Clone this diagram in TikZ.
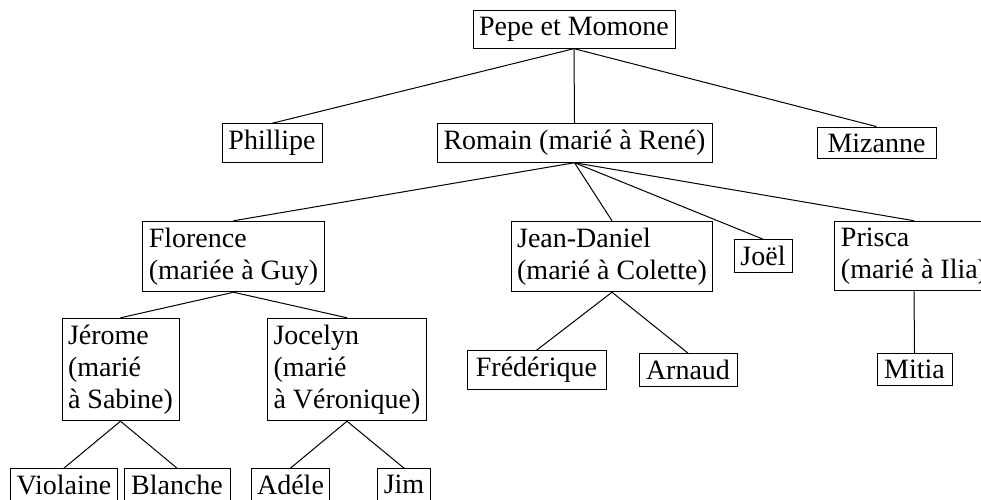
\documentclass[tikz,border=0pt]{standalone}
\usepackage{fontspec}
\setmainfont{Liberation Serif}
\begin{document}
\begin{tikzpicture}[x=1pt,y=-1pt,
  pbox/.style={draw,line width=1pt,font=\fontsize{28}{32}\selectfont,align=left,inner xsep=6pt,inner ysep=6.5pt},
  link/.style={line width=1pt}]
\useasboundingbox (0,0) rectangle (981,499);
\clip (0,0) rectangle (981,499);
\node[pbox,minimum width=202pt] (pepe) at (574,29.5) {Pepe et Momone};
\node[pbox,minimum width=100pt] (phil) at (272,143) {Phillipe};
\node[pbox,minimum width=275pt] (romain) at (574.5,143) {Romain (marié à René)};
\node[pbox,minimum width=119pt] (miz) at (876.5,143) {Mizanne};
\node[pbox,minimum width=179pt] (flor) at (233.5,256.5) {Florence\\(mariée à Guy)};
\node[pbox,minimum width=200pt] (jd) at (612,256.5) {Jean-Daniel\\(marié à Colette)};
\node[pbox,minimum width=58pt] (joel) at (763,256) {Joël};
\node[pbox,minimum width=156pt] (prisca) at (914,256) {Prisca\\(marié à Ilia)};
\node[pbox,minimum width=117pt] (jerome) at (120.5,369.5) {Jérome\\(marié\\à Sabine)};
\node[pbox,minimum width=158pt] (jocelyn) at (347,369.5) {Jocelyn\\(marié\\à Véronique)};
\node[pbox,minimum width=139pt] (fred) at (536.5,370) {Frédérique};
\node[pbox,minimum width=98pt] (arnaud) at (688,370) {Arnaud};
\node[pbox,minimum width=75pt] (mitia) at (914.5,369.5) {Mitia};
\node[pbox,minimum width=106pt] (viol) at (64,485) {Violaine};
\node[pbox,minimum width=106pt] (blanche) at (177,485) {Blanche};
\node[pbox,minimum width=77pt] (adele) at (290.5,485) {Adéle};
\node[pbox,minimum width=52pt] (jim) at (404,484.5) {Jim};
\draw[link] (pepe.south) -- (phil.north);
\draw[link] (pepe.south) -- (romain.north);
\draw[link] (pepe.south) -- (miz.north);
\draw[link] (romain.south) -- (flor.north);
\draw[link] (romain.south) -- (jd.north);
\draw[link] (romain.south) -- (joel.north);
\draw[link] (romain.south) -- (prisca.north);
\draw[link] (flor.south) -- (jerome.north);
\draw[link] (flor.south) -- (jocelyn.north);
\draw[link] (jd.south) -- (fred.north);
\draw[link] (jd.south) -- (arnaud.north);
\draw[link] (prisca.south) -- (mitia.north);
\draw[link] (jerome.south) -- (viol.north);
\draw[link] (jerome.south) -- (blanche.north);
\draw[link] (jocelyn.south) -- (adele.north);
\draw[link] (jocelyn.south) -- (jim.north);
\end{tikzpicture}
\end{document}
